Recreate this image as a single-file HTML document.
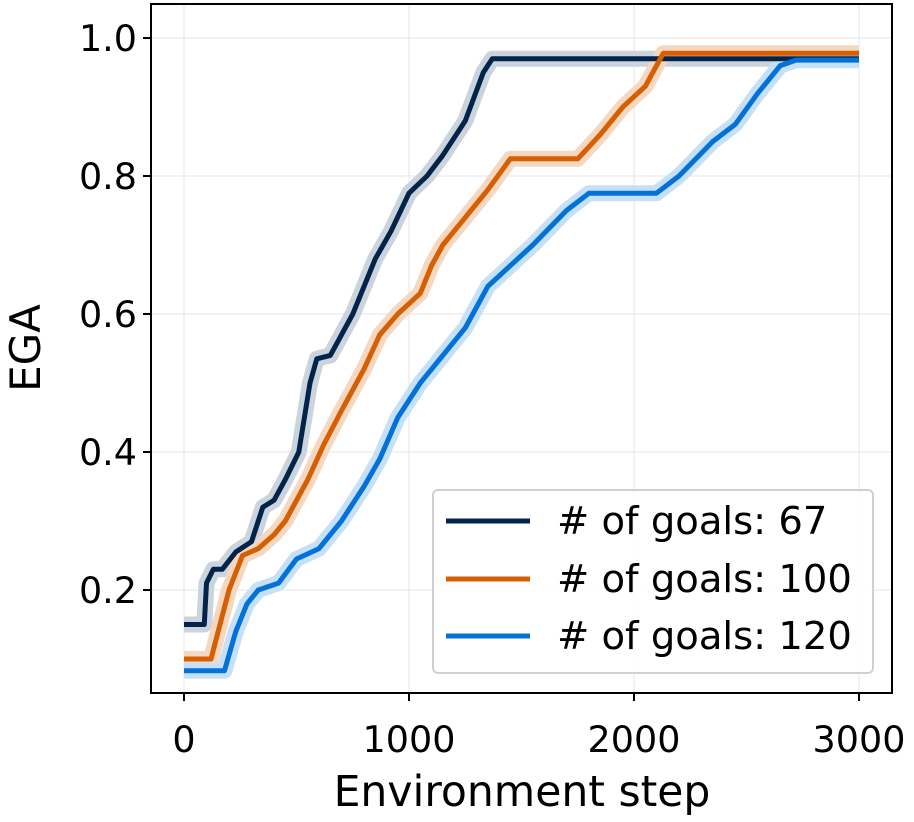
<!DOCTYPE html><html><head><style>body{margin:0;background:#fff}svg{display:block}text{font-family:"DejaVu Sans","Liberation Sans",sans-serif;fill:#000}</style></head><body>
<svg id="s" width="914" height="822" viewBox="0 0 914 822">
<g stroke="#e6e6e6" stroke-width="1">
<line x1="184" y1="4" x2="184" y2="693"/><line x1="409" y1="4" x2="409" y2="693"/><line x1="634" y1="4" x2="634" y2="693"/><line x1="859" y1="4" x2="859" y2="693"/>
<line x1="151" y1="38" x2="892" y2="38"/><line x1="151" y1="176" x2="892" y2="176"/><line x1="151" y1="314" x2="892" y2="314"/><line x1="151" y1="452" x2="892" y2="452"/><line x1="151" y1="590" x2="892" y2="590"/>
</g>
<g id="d"></g>
<rect x="151" y="4" width="741" height="689" fill="none" stroke="#000" stroke-width="2"/>
<g stroke="#000" stroke-width="2">
<line x1="184" y1="693" x2="184" y2="701"/><line x1="409" y1="693" x2="409" y2="701"/><line x1="634" y1="693" x2="634" y2="701"/><line x1="859" y1="693" x2="859" y2="701"/>
<line x1="143" y1="38" x2="151" y2="38"/><line x1="143" y1="176" x2="151" y2="176"/><line x1="143" y1="314" x2="151" y2="314"/><line x1="143" y1="452" x2="151" y2="452"/><line x1="143" y1="590" x2="151" y2="590"/>
</g>
<g font-size="36.5" text-anchor="middle">
<text x="184" y="752">0</text><text x="409" y="752">1000</text><text x="634" y="752">2000</text><text x="859" y="752">3000</text>
<text x="522" y="806" font-size="42.5">Environment step</text>
</g>
<g font-size="36.5" text-anchor="end">
<text x="137" y="51">1.0</text><text x="137" y="189">0.8</text><text x="137" y="327">0.6</text><text x="137" y="465">0.4</text><text x="137" y="603">0.2</text>
</g>
<text transform="translate(40,348) rotate(-90)" font-size="42" text-anchor="middle">EGA</text>
<rect x="433" y="490" width="440" height="183" rx="5" fill="#fff" fill-opacity="0.85" stroke="#d0d0d0" stroke-width="2"/>
<g stroke-width="5"><line x1="446" y1="521" x2="530" y2="521" stroke="#03244a"/><line x1="446" y1="579" x2="530" y2="579" stroke="#d55f02"/><line x1="446" y1="636" x2="530" y2="636" stroke="#0372d8"/></g>
<g font-size="38.5"><text x="557" y="534"># of goals: 67</text><text x="557" y="592"># of goals: 100</text><text x="557" y="649"># of goals: 120</text></g>
</svg>
<script>
const X=s=>184+s*0.225,Y=v=>38+(1-v)*690;
const S=[
["#03244a",[[0,.15],[90,.15],[100,.21],[130,.23],[170,.23],[230,.255],[300,.27],[350,.32],[400,.33],[450,.36],[510,.4],[560,.5],[590,.535],[650,.54],[750,.6],[850,.68],[920,.72],[1000,.775],[1080,.8],[1150,.83],[1250,.88],[1330,.95],[1370,.97],[3000,.97]]],
["#d55f02",[[0,.1],[120,.1],[160,.15],[200,.2],[260,.25],[330,.26],[400,.28],[450,.3],[550,.36],[620,.41],[700,.46],[800,.52],[870,.57],[950,.6],[1050,.63],[1100,.67],[1150,.7],[1250,.74],[1350,.78],[1450,.825],[1750,.825],[1850,.86],[1950,.9],[2050,.93],[2130,.978],[3000,.978]]],
["#0372d8",[[0,.083],[180,.083],[230,.14],[280,.18],[330,.2],[420,.21],[500,.245],[600,.26],[700,.3],[800,.35],[870,.39],[950,.45],[1050,.5],[1150,.54],[1250,.58],[1350,.64],[1450,.67],[1550,.7],[1700,.75],[1800,.775],[2100,.775],[2200,.8],[2350,.85],[2450,.875],[2550,.92],[2650,.96],[2720,.968],[3000,.968]]]];
const fills=["#cbd3dd","#f6d7c0","#c6e0f7"];
let h="";
S.forEach((c,i)=>{const p=c[1].map(q=>X(q[0]).toFixed(1)+","+Y(q[1]).toFixed(1)).join(" ");
h+=`<polyline points="${p}" fill="none" stroke="${fills[i]}" stroke-width="16" stroke-linejoin="round"/>`;});
S.forEach(c=>{const p=c[1].map(q=>X(q[0]).toFixed(1)+","+Y(q[1]).toFixed(1)).join(" ");
h+=`<polyline points="${p}" fill="none" stroke="${c[0]}" stroke-width="5" stroke-linejoin="round"/>`;});
document.getElementById("d").innerHTML=h;
</script>
</body></html>
